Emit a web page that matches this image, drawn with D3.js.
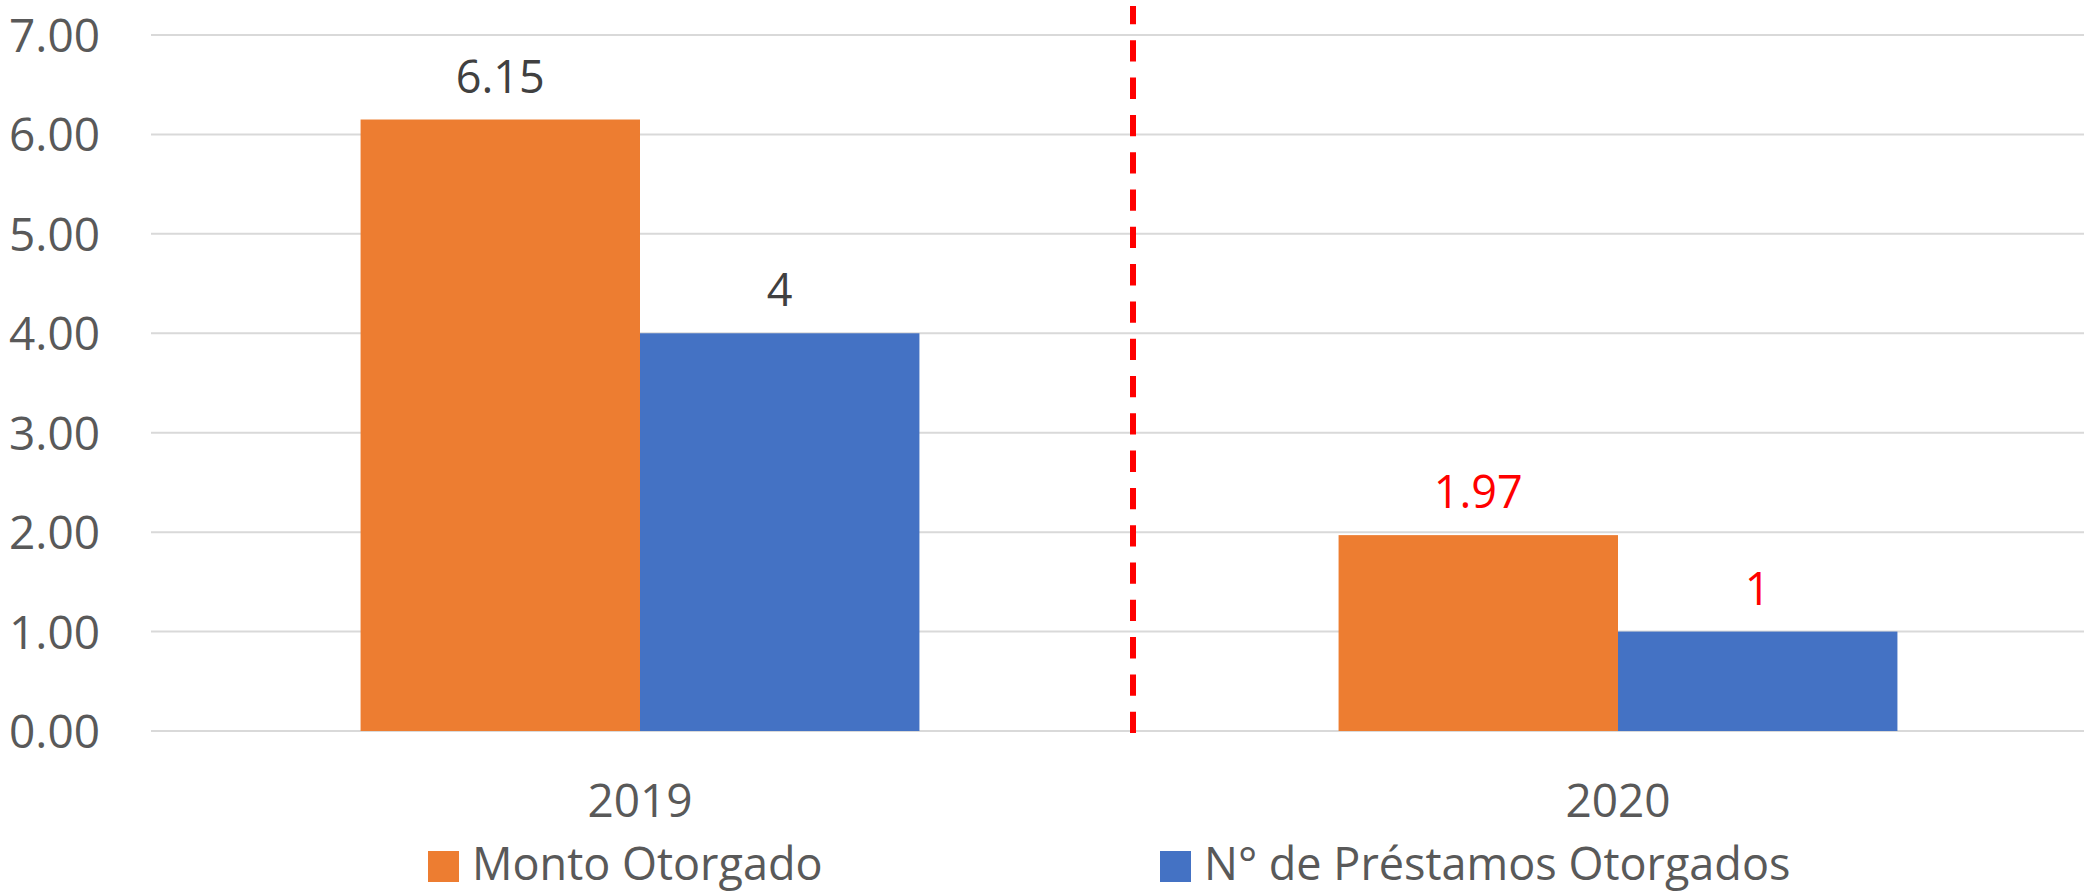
<!DOCTYPE html>
<html>
<head>
<meta charset="utf-8">
<script src="https://cdn.jsdelivr.net/npm/d3@7"></script>
<style>
  html, body { margin: 0; padding: 0; background: #fff; }
  svg { display: block; font-family: "Open Sans", "Noto Sans", sans-serif; }
</style>
</head>
<body>
<div class="app"></div>
<script>
const years = ['2019', '2020']
const seriesNames = ['Monto Otorgado', 'N° de Préstamos Otorgados']
const monto = [6.15, 1.97]
const prestamos = [4, 1]
const yTicks = [0, 1, 2, 3, 4, 5, 6, 7]
const labelText = [['6.15', '4'], ['1.97', '1']]

const W = 2084, H = 892
const colors = ['#ed7d31', '#4472c4']
const highlightYear = '2020'

const svg = d3.select('.app').append('svg').attr('width', W).attr('height', H)

const y = d3.scaleLinear().domain([0, 7]).range([731, 35])

const pad = 1.5 / 3.5
const x0 = d3.scaleBand()
  .domain(years)
  .range([151, 2107])
  .paddingInner(pad)
  .paddingOuter(pad / 2)

const x1 = d3.scaleBand()
  .domain(seriesNames)
  .range([0, x0.bandwidth()])

// gridlines
svg.append('g')
  .selectAll('line')
  .data(yTicks)
  .join('line')
  .attr('x1', 151).attr('x2', W)
  .attr('y1', d => y(d)).attr('y2', d => y(d))
  .attr('stroke', '#d9d9d9')
  .attr('stroke-width', 2)

// y axis labels
const yAxis = svg.append('g')
  .attr('transform', 'translate(151,0)')
  .call(d3.axisLeft(y).tickValues(yTicks).tickFormat(d3.format('.2f')).tickSize(0).tickPadding(51))
yAxis.select('.domain').remove()
yAxis.selectAll('text')
  .attr('fill', '#595959')
  .style('font-size', '46px')
  .style('font-family', '"Open Sans", sans-serif')
  .attr('dy', '0.36em')

const rows = years.map((yr, i) => ({ year: yr, values: [monto[i], prestamos[i]], labels: labelText[i] }))

const groups = svg.append('g')
  .selectAll('g')
  .data(rows)
  .join('g')
  .attr('transform', d => `translate(${x0(d.year)},0)`)

groups.selectAll('rect')
  .data(d => d.values.map((v, j) => ({ name: seriesNames[j], v, j })))
  .join('rect')
  .attr('x', d => x1(d.name))
  .attr('width', x1.bandwidth())
  .attr('y', d => y(d.v))
  .attr('height', d => y(0) - y(d.v))
  .attr('fill', d => colors[d.j])

groups.selectAll('text')
  .data(d => d.values.map((v, j) => ({ name: seriesNames[j], v, j, label: d.labels[j], year: d.year })))
  .join('text')
  .attr('x', d => x1(d.name) + x1.bandwidth() / 2)
  .attr('y', d => y(d.v) - 27)
  .attr('text-anchor', 'middle')
  .attr('fill', d => d.year === highlightYear ? '#ff0000' : '#404040')
  .style('font-size', '45px')
  .text(d => d.label)

// divider between years
const divX = x0(years[0]) + x0.bandwidth() + x0.step() * pad / 2 + 4
svg.append('line')
  .attr('x1', divX).attr('x2', divX)
  .attr('y1', 733).attr('y2', 6)
  .attr('stroke', '#ff0000')
  .attr('stroke-width', 6)
  .attr('stroke-dasharray', '21.3,16')

// category labels
svg.append('g')
  .selectAll('text')
  .data(years)
  .join('text')
  .attr('x', d => x0(d) + x0.bandwidth() / 2)
  .attr('y', 817)
  .attr('text-anchor', 'middle')
  .attr('fill', '#595959')
  .style('font-size', '46px')
  .text(d => d)

// legend
const legendX = [428, 1160]
const legend = svg.append('g')
  .selectAll('g')
  .data(seriesNames)
  .join('g')
  .attr('transform', (d, i) => `translate(${legendX[i]},851)`)
legend.append('rect')
  .attr('width', 31).attr('height', 31)
  .attr('fill', (d, i) => colors[i])
legend.append('text')
  .attr('x', 44).attr('y', 29)
  .attr('fill', '#595959')
  .style('font-size', '45px')
  .text(d => d)
</script>
</body>
</html>
